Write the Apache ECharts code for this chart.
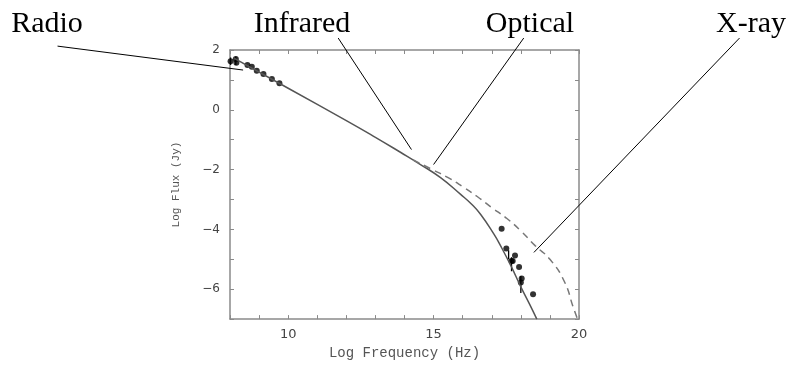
<!DOCTYPE html>
<html>
<head>
<meta charset="utf-8">
<script src="https://cdn.jsdelivr.net/npm/echarts@6/dist/echarts.min.js"></script>
<style>
html, body { margin: 0; padding: 0; background: #fff; }
#sed { width: 792px; height: 365px; }
</style>
</head>
<body>
<div id="sed"></div>
<script>
// observed points (log nu, log flux)
var radioX = [8.02, 8.2, 8.22, 8.6, 8.75, 8.92, 9.15, 9.44, 9.7];
var radioY = [1.62, 1.7, 1.57, 1.5, 1.44, 1.31, 1.2, 1.03, 0.89];
var xrayX = [17.34, 17.5, 17.68, 17.72, 17.8, 17.94, 18.0, 18.03, 18.42];
var xrayY = [-3.98, -4.64, -5.06, -5.06, -4.87, -5.26, -5.78, -5.64, -6.17];
// error bars: x, low, high
var errX = [8.02, 8.2, 17.58, 17.68, 18.0];
var errLo = [1.5, 1.5, -5.0, -5.4, -6.13];
var errHi = [1.75, 1.78, -4.7, -4.93, -5.56];
// model curves
var solidX = [8.15, 10, 12, 13, 13.86, 14.55, 15.24, 15.93, 16.3, 16.62, 17.07, 17.31, 17.66, 18.0, 18.3, 18.55];
var solidY = [1.72, 0.72, -0.36, -0.92, -1.42, -1.83, -2.27, -2.83, -3.15, -3.5, -4.15, -4.56, -5.22, -5.92, -6.5, -7.0];
var dashedX = [14.3, 15, 15.5, 16, 16.5, 17, 17.5, 18, 18.5, 19, 19.5, 19.8, 19.95];
var dashedY = [-1.68, -2.02, -2.27, -2.57, -2.9, -3.27, -3.62, -4.05, -4.55, -5.0, -5.75, -6.6, -7.0];
// tick labels
var xTickLabels = [10, 15, 20];
var yTickLabels = [2, 0, -2, -4, -6];
// band annotations: name, leader start, leader end (data coords)
var bandNames = ['Radio', 'Infrared', 'Optical', 'X-ray'];
var leaderFrom = [[2.07, 2.13], [11.72, 2.4], [18.1, 2.4], [25.52, 2.4]];
var leaderTo = [[8.45, 1.33], [14.24, -1.33], [15.0, -1.83], [18.45, -4.77]];
var bandTextX = [47, 302, 530, 751];

function zip(a, b) {
    return a.map(function (v, i) { return [v, b[i]]; });
}

var myChart = echarts.init(document.getElementById('sed'));

var axisGray = '#8a8a8a';
var tickFont = 'DejaVu Sans';

var boxX = {
    type: 'value', min: 8, max: 20, interval: 1,
    axisLine: { onZero: false, lineStyle: { color: axisGray, width: 1.5 } },
    axisTick: { inside: true, length: 4, lineStyle: { color: axisGray } },
    splitLine: { show: false }
};
var boxY = {
    type: 'value', min: -7, max: 2, interval: 1,
    axisLine: { onZero: false, lineStyle: { color: axisGray, width: 1.5 } },
    axisTick: { inside: true, length: 4, lineStyle: { color: axisGray } },
    splitLine: { show: false }
};

option = {
    animation: false,
    backgroundColor: '#fff',
    grid: { left: 230, right: 213, top: 50, bottom: 45, containLabel: false },
    xAxis: [
        echarts.util.merge({
            position: 'bottom',
            name: 'Log Frequency (Hz)',
            nameLocation: 'middle',
            nameGap: 26,
            nameTextStyle: { fontFamily: 'Liberation Mono', fontSize: 14, color: '#555' },
            axisLabel: {
                margin: 9,
                color: '#444',
                fontFamily: tickFont,
                fontSize: 13,
                formatter: function (v) { return xTickLabels.indexOf(v) >= 0 ? String(v) : ''; }
            }
        }, boxX, true),
        echarts.util.merge({ position: 'top', axisLabel: { show: false } }, boxX, true)
    ],
    yAxis: [
        echarts.util.merge({
            position: 'left',
            name: 'Log Flux (Jy)',
            nameLocation: 'middle',
            nameGap: 48,
            nameTextStyle: { fontFamily: 'Liberation Mono', fontSize: 11, color: '#555' },
            axisLabel: {
                margin: 10,
                color: '#444',
                fontFamily: tickFont,
                fontSize: 12,
                formatter: function (v) {
                    return yTickLabels.indexOf(v) >= 0 ? String(v).replace('-', '\u2212') : '';
                }
            }
        }, boxY, true),
        echarts.util.merge({ position: 'right', axisLabel: { show: false } }, boxY, true)
    ],
    graphic: bandNames.map(function (n, i) {
        return {
            type: 'text',
            x: bandTextX[i],
            y: 24,
            style: {
                text: n,
                font: '30px "Liberation Serif"',
                fill: '#000',
                textAlign: 'center',
                textVerticalAlign: 'middle'
            }
        };
    }),
    series: [
        {
            name: 'model',
            type: 'line',
            smooth: 0.5,
            symbol: 'none',
            lineStyle: { color: '#555', width: 1.5 },
            data: zip(solidX, solidY)
        },
        {
            name: 'model 2',
            type: 'line',
            smooth: 0.5,
            symbol: 'none',
            lineStyle: { color: '#777', width: 1.5, type: [7, 5] },
            data: zip(dashedX, dashedY)
        },
        {
            name: 'errors',
            type: 'custom',
            renderItem: function (params, api) {
                var p1 = api.coord([api.value(0), api.value(1)]);
                var p2 = api.coord([api.value(0), api.value(2)]);
                return {
                    type: 'line',
                    shape: { x1: p1[0], y1: p1[1], x2: p2[0], y2: p2[1] },
                    style: { stroke: '#000', lineWidth: 1.3 }
                };
            },
            data: errX.map(function (x, i) { return [x, errLo[i], errHi[i]]; })
        },
        {
            name: 'radio',
            type: 'scatter',
            symbolSize: 6,
            itemStyle: { color: '#000' },
            data: zip(radioX, radioY)
        },
        {
            name: 'xray',
            type: 'scatter',
            symbolSize: 6,
            itemStyle: { color: '#000' },
            data: zip(xrayX, xrayY)
        },
        {
            name: 'leaders',
            type: 'custom',
            clip: false,
            silent: true,
            z: 5,
            renderItem: function (params, api) {
                var p1 = api.coord([api.value(0), api.value(1)]);
                var p2 = api.coord([api.value(2), api.value(3)]);
                return {
                    type: 'line',
                    shape: { x1: p1[0], y1: p1[1], x2: p2[0], y2: p2[1] },
                    style: { stroke: '#000', lineWidth: 1 }
                };
            },
            data: leaderFrom.map(function (f, i) {
                return [f[0], f[1], leaderTo[i][0], leaderTo[i][1]];
            })
        }
    ]
};

myChart.setOption(option);
window.addEventListener("resize", function () {
    myChart.resize();
});
</script>
</body>
</html>
